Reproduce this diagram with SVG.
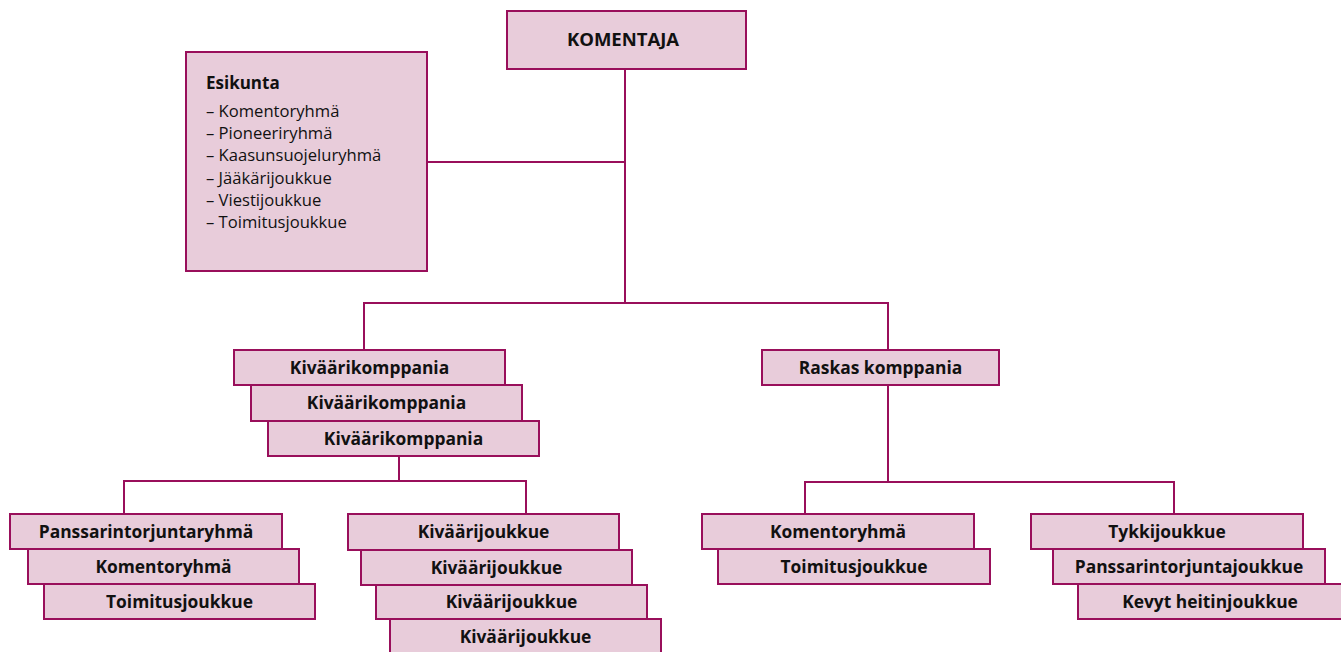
<svg xmlns="http://www.w3.org/2000/svg" width="1341" height="652" viewBox="0 0 1341 652">
<style>
.box{fill:#e8ccda;stroke:#990f5b;stroke-width:2}
.con{fill:none;stroke:#990f5b;stroke-width:2}
.t{font-family:"Open Sans","Liberation Sans",sans-serif;font-weight:700;font-size:17.4px;fill:#111;text-anchor:middle}
.h{font-family:"Open Sans","Liberation Sans",sans-serif;font-weight:700;font-size:17px;fill:#111}
.l{font-family:"Open Sans","Liberation Sans",sans-serif;font-weight:400;font-size:16.6px;fill:#111}
</style>
<rect width="1341" height="652" fill="#fff"/>
<g id="connectors" class="con">
<path d="M625,69V303"/>
<path d="M427,162H625"/>
<path d="M364,350V303H888V350"/>
<path d="M399,456V481"/>
<path d="M124,514V481H526V514"/>
<path d="M888,385V482"/>
<path d="M805,514V482H1174V514"/>
</g>
<g id="komentaja"><rect class="box" x="507" y="11" width="239" height="58"/><text class="t" x="623" y="46" style="font-size:18.5px">KOMENTAJA</text></g>
<g id="esikunta"><rect class="box" x="186" y="52" width="241" height="219"/>
<text class="h" x="206" y="89">Esikunta</text>
<text class="l" x="206" y="117">– Komentoryhmä</text>
<text class="l" x="206" y="139">– Pioneeriryhmä</text>
<text class="l" x="206" y="161">– Kaasunsuojeluryhmä</text>
<text class="l" x="206" y="184">– Jääkärijoukkue</text>
<text class="l" x="206" y="206">– Viestijoukkue</text>
<text class="l" x="206" y="228">– Toimitusjoukkue</text>
</g>
<g id="kivaarikomppania1"><rect class="box" x="234" y="350" width="271" height="35"/><text class="t" x="369.5" y="374">Kiväärikomppania</text></g>
<g id="kivaarikomppania2"><rect class="box" x="251" y="385" width="271" height="36"/><text class="t" x="386.5" y="409">Kiväärikomppania</text></g>
<g id="kivaarikomppania3"><rect class="box" x="268" y="421" width="271" height="35"/><text class="t" x="403.5" y="445">Kiväärikomppania</text></g>
<g id="raskas"><rect class="box" x="762" y="350" width="237" height="35"/><text class="t" x="880.5" y="374">Raskas komppania</text></g>
<g id="panssarintorjuntaryhma"><rect class="box" x="10" y="514" width="272" height="35"/><text class="t" x="146" y="538">Panssarintorjuntaryhmä</text></g>
<g id="komentoryhma1"><rect class="box" x="28" y="549" width="271" height="35"/><text class="t" x="163.5" y="573">Komentoryhmä</text></g>
<g id="toimitusjoukkue1"><rect class="box" x="44" y="584" width="271" height="35"/><text class="t" x="179.5" y="608">Toimitusjoukkue</text></g>
<g id="kivaarijoukkue1"><rect class="box" x="348" y="514" width="271" height="36"/><text class="t" x="483.5" y="538">Kiväärijoukkue</text></g>
<g id="kivaarijoukkue2"><rect class="box" x="361" y="550" width="271" height="35"/><text class="t" x="496.5" y="574">Kiväärijoukkue</text></g>
<g id="kivaarijoukkue3"><rect class="box" x="376" y="585" width="271" height="34"/><text class="t" x="511.5" y="608">Kiväärijoukkue</text></g>
<g id="kivaarijoukkue4"><rect class="box" x="390" y="619" width="271" height="40"/><text class="t" x="525.5" y="643">Kiväärijoukkue</text></g>
<g id="komentoryhma2"><rect class="box" x="702" y="514" width="272" height="35"/><text class="t" x="838" y="538">Komentoryhmä</text></g>
<g id="toimitusjoukkue2"><rect class="box" x="718" y="549" width="272" height="35"/><text class="t" x="854" y="573">Toimitusjoukkue</text></g>
<g id="tykkijoukkue"><rect class="box" x="1031" y="514" width="272" height="35"/><text class="t" x="1167" y="538">Tykkijoukkue</text></g>
<g id="panssarintorjuntajoukkue"><rect class="box" x="1053" y="549" width="272" height="35"/><text class="t" x="1189" y="573">Panssarintorjuntajoukkue</text></g>
<g id="kevyt"><rect class="box" x="1078" y="584" width="275" height="35"/><text class="t" x="1210" y="608">Kevyt heitinjoukkue</text></g>
</svg>
